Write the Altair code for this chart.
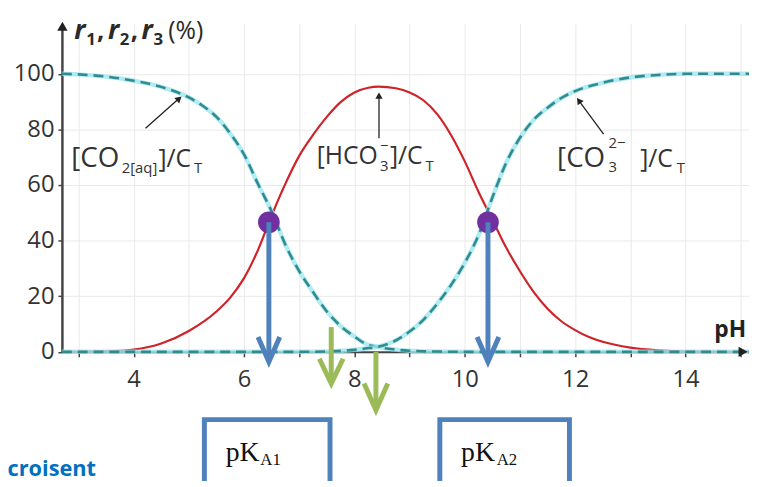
import altair as alt
import pandas as pd

# ---------------- data ----------------
# [CO2(aq)]/CT  (dashed, left branch)
ph_co2 = [2.7, 3.0, 3.5, 4.0, 4.5, 5.0, 5.25, 5.5, 5.75, 6.0, 6.25, 6.5, 6.75, 7.0, 7.25,
          7.5, 7.75, 8.0, 8.2, 8.42, 8.7, 9.0, 9.5, 10.0, 15.15]
pct_co2 = [100, 99.8, 99.0, 97.5, 95.3, 91.5, 88.5, 84.5, 78.5, 71.0, 60.5, 50.5, 38.5, 29.0, 21.5,
           14.5, 9.3, 5.5, 2.9, 1.8, 0.9, 0.4, 0.1, 0.0, 0.0]
# [HCO3-]/CT  (red)
ph_hco3 = [2.7, 3.5, 4.0, 4.5, 5.0, 5.5, 5.75, 6.0, 6.25, 6.5, 6.75, 7.0, 7.25, 7.5, 7.75,
           8.0, 8.25, 8.44, 8.75, 9.0, 9.25, 9.5, 9.75, 10.0, 10.25, 10.5, 10.75, 11.0, 11.25,
           11.5, 11.75, 12.0, 12.25, 12.5, 13.0, 13.5, 14.0, 15.15]
pct_hco3 = [0.0, 0.15, 0.8, 3.0, 7.5, 14.5, 19.5, 26.5, 36.5, 49.0, 60.5, 70.5, 78.0, 84.5, 89.8,
            93.3, 95.0, 95.4, 94.8, 93.3, 90.5, 85.5, 78.0, 68.5, 57.5, 47.5, 37.5, 29.0, 21.5,
            15.5, 11.0, 7.8, 5.3, 3.6, 1.5, 0.5, 0.1, 0.0]
# [CO3 2-]/CT  (dashed, right branch)
ph_co3 = [2.7, 7.0, 7.5, 8.0, 8.2, 8.42, 8.7, 9.0, 9.25, 9.5, 9.75, 10.0, 10.25, 10.5, 10.75,
          11.0, 11.25, 11.5, 11.75, 12.0, 12.5, 13.0, 13.5, 14.0, 15.15]
pct_co3 = [0.0, 0.0, 0.15, 0.7, 1.2, 1.8, 3.6, 7.3, 11.5, 17.3, 24.0, 32.0, 42.0, 55.5, 68.0,
           77.0, 83.5, 87.8, 91.3, 93.8, 96.8, 98.7, 99.6, 100.0, 100.0]

pka_values = [6.45, 10.42]
pka_marker_pct = [46.6, 46.6]
green_ph = [7.58, 8.39]

x_ticks = list(range(3, 16))
y_ticks = [0, 20, 40, 60, 80, 100]

# ---------------- layout ----------------
X0, Y0 = 62.5, 21.4          # page position of plot-area origin
W, H = 694.5, 331.6
SANS = "Open Sans"
SERIF = "Liberation Serif"
INK = "#333333"
RED = "#cf2229"
TEAL = "#2e8c91"
CYAN = "#9fe6ee"
BLUE = "#4f81bd"
GREEN = "#9bbb59"
PURPLE = "#7030a0"

xs = alt.Scale(domain=[2.7, 15.15], nice=False, zero=False)
ys = alt.Scale(domain=[0, 118], nice=False, zero=False)

one = pd.DataFrame({"k": [0]})


def px(x):
    return x - X0


def py(y):
    return y - Y0


x_axis = alt.Axis(values=x_ticks,
                  labelExpr="(datum.value % 2 == 0 && datum.value >= 4 && datum.value <= 14) ? datum.label : ''",
                  grid=True, gridColor="#e9e9e9", gridWidth=1,
                  domainColor="#444", domainWidth=2, tickColor="#444", tickSize=5, tickWidth=1.5,
                  labelFont=SANS, labelFontSize=24, labelColor=INK, labelPadding=11,
                  labelFlush=False, labelOverlap=False, title=None)
y_axis = alt.Axis(values=y_ticks, grid=True, gridColor="#e9e9e9", gridWidth=1,
                  domainColor="#444", domainWidth=2.5, tickColor="#444", tickSize=4, tickWidth=1.5,
                  labelFont=SANS, labelFontSize=24, labelColor=INK, labelPadding=4,
                  labelBaseline="middle", title=None)


def X(field="pH:Q"):
    return alt.X(field, scale=xs, axis=x_axis)


def Y(field="pct:Q"):
    return alt.Y(field, scale=ys, axis=y_axis)


def curve(ph, pct, **mark):
    df = pd.DataFrame({"pH": ph, "pct": pct})
    return alt.Chart(df).mark_line(interpolate="monotone", **mark).encode(x=X(), y=Y())


layers = []
# curves
layers.append(curve(ph_hco3, pct_hco3, color=RED, strokeWidth=2.2))
for ph, pct in [(ph_co2, pct_co2), (ph_co3, pct_co3)]:
    layers.append(curve(ph, pct, color=CYAN, strokeWidth=4.5, opacity=0.8))
    layers.append(curve(ph, pct, color=TEAL, strokeWidth=2.6, strokeDash=[10, 6]))

# axis arrows
layers.append(alt.Chart(one).mark_point(shape="triangle-up", filled=True, size=110, color="#222", opacity=1)
              .encode(x=alt.value(px(63)), y=alt.value(py(24))))
layers.append(alt.Chart(one).mark_point(shape="triangle-right", filled=True, size=110, color="#222", opacity=1)
              .encode(x=alt.value(px(751)), y=alt.value(py(353))))


def txt(s, x, y, size=25, color=INK, font=SANS, align="left", **kw):
    return alt.Chart(one).mark_text(text=s, align=align, baseline="alphabetic", fontSize=size,
                                    font=font, color=color, **kw).encode(
        x=alt.value(px(x)), y=alt.value(py(y)))


# y axis title  r1, r2, r3(%)
for rx, sub in [(75, "1"), (109, "2"), (143, "3")]:
    layers.append(txt("r", rx, 37, size=27, fontStyle="italic", fontWeight="bold", color="#2a2a2a"))
    layers.append(txt(sub, rx + 12, 43, size=17, fontWeight="bold", color="#2a2a2a"))
    if sub != "3":
        layers.append(txt(",", rx + 23, 37, size=26, fontWeight="bold", color="#2a2a2a"))
layers.append(txt("(%)", 170, 37, size=25, color="#2a2a2a"))
layers.append(txt("pH", 722, 338, size=23, fontWeight="bold", color="#222"))

# curve labels
layers += [
    txt("[CO", 72, 166, size=28), txt("2[aq]", 123, 172, size=15),
    txt("]/C", 160, 166), txt("T", 196, 172, size=15),
    txt("[HCO", 320, 163), txt("3", 384, 170, size=15), txt("−", 384, 150, size=15),
    txt("]/C", 394, 163), txt("T", 430, 170, size=15),
    txt("[CO", 563, 166, size=28), txt("3", 615, 171, size=15), txt("2−", 615, 147, size=15),
    txt("]/C", 647, 166), txt("T", 684, 172, size=15),
]


# thin annotation arrows
def thin_arrow(x1, y1, x2, y2, hx, hy, ang):
    return [
        alt.Chart(one).mark_rule(color="#222", strokeWidth=1.3).encode(
            x=alt.value(px(x1)), y=alt.value(py(y1)), x2=alt.value(px(x2)), y2=alt.value(py(y2))),
        alt.Chart(one).mark_point(shape="triangle-up", filled=True, size=55, color="#222", opacity=1,
                                  angle=ang).encode(x=alt.value(px(hx)), y=alt.value(py(hy))),
    ]


layers += thin_arrow(147, 127, 182, 96, 181, 97, 49)
layers += thin_arrow(383, 137, 383, 94, 383, 94, 0)
layers += thin_arrow(610, 133, 585, 99, 585, 99, 324)

# purple pKa markers
pk = pd.DataFrame({"pH": pka_values, "pct": pka_marker_pct})
layers.append(alt.Chart(pk).mark_circle(size=480, color=PURPLE, opacity=1).encode(x=X(), y=Y()))


# thick down arrows (shaft + chevron head)
def down_arrow(xv, top, tip, arms, dx, color):
    shaft = pd.DataFrame({"pH": [xv], "pct": [top], "b": [tip + 1.2]})
    head = pd.DataFrame({"pH": [xv - dx, xv, xv + dx], "pct": [arms, tip, arms], "o": [0, 1, 2]})
    return [
        alt.Chart(shaft).mark_rule(color=color, strokeWidth=5).encode(x=X(), y=Y(), y2="b:Q"),
        alt.Chart(head).mark_line(color=color, strokeWidth=5, strokeJoin="miter", strokeCap="butt").encode(
            x=X(), y=Y(), order="o:Q"),
    ]


for v, p in zip(pka_values, pka_marker_pct):
    layers += down_arrow(v, p, -3.56, 5.34, 0.197, BLUE)
layers += down_arrow(green_ph[0], 8.9, -11.39, -2.49, 0.215, GREEN)
layers += down_arrow(green_ph[1], 0.0, -21.0, -11.39, 0.215, GREEN)

# pKa boxes
for xa, xb in [(206.5, 333.5), (444.5, 575.5)]:
    layers.append(alt.Chart(one).mark_rect(fill=None, stroke=BLUE, strokeWidth=5, filled=False).encode(
        x=alt.value(px(xa)), x2=alt.value(px(xb)), y=alt.value(py(421.5)), y2=alt.value(py(530))))
layers += [
    txt("pK", 228, 463, size=28, font=SERIF, color="#111"), txt("A1", 263, 467, size=17, font=SERIF, color="#111"),
    txt("pK", 466, 463, size=28, font=SERIF, color="#111"), txt("A2", 502, 467, size=17, font=SERIF, color="#111"),
]
layers.append(txt("croisent", 97, 478, size=22, color="#0070c0", fontWeight="bold", align="right"))

chart = alt.layer(*layers).properties(
    width=W, height=H,
    padding={"left": X0 - 8, "top": Y0 - 8, "right": 0, "bottom": 128},
    autosize=alt.AutoSizeParams(type="none"),
).configure_view(stroke=None)

chart.save("out.html", embed_options={"renderer": "svg", "actions": False})
